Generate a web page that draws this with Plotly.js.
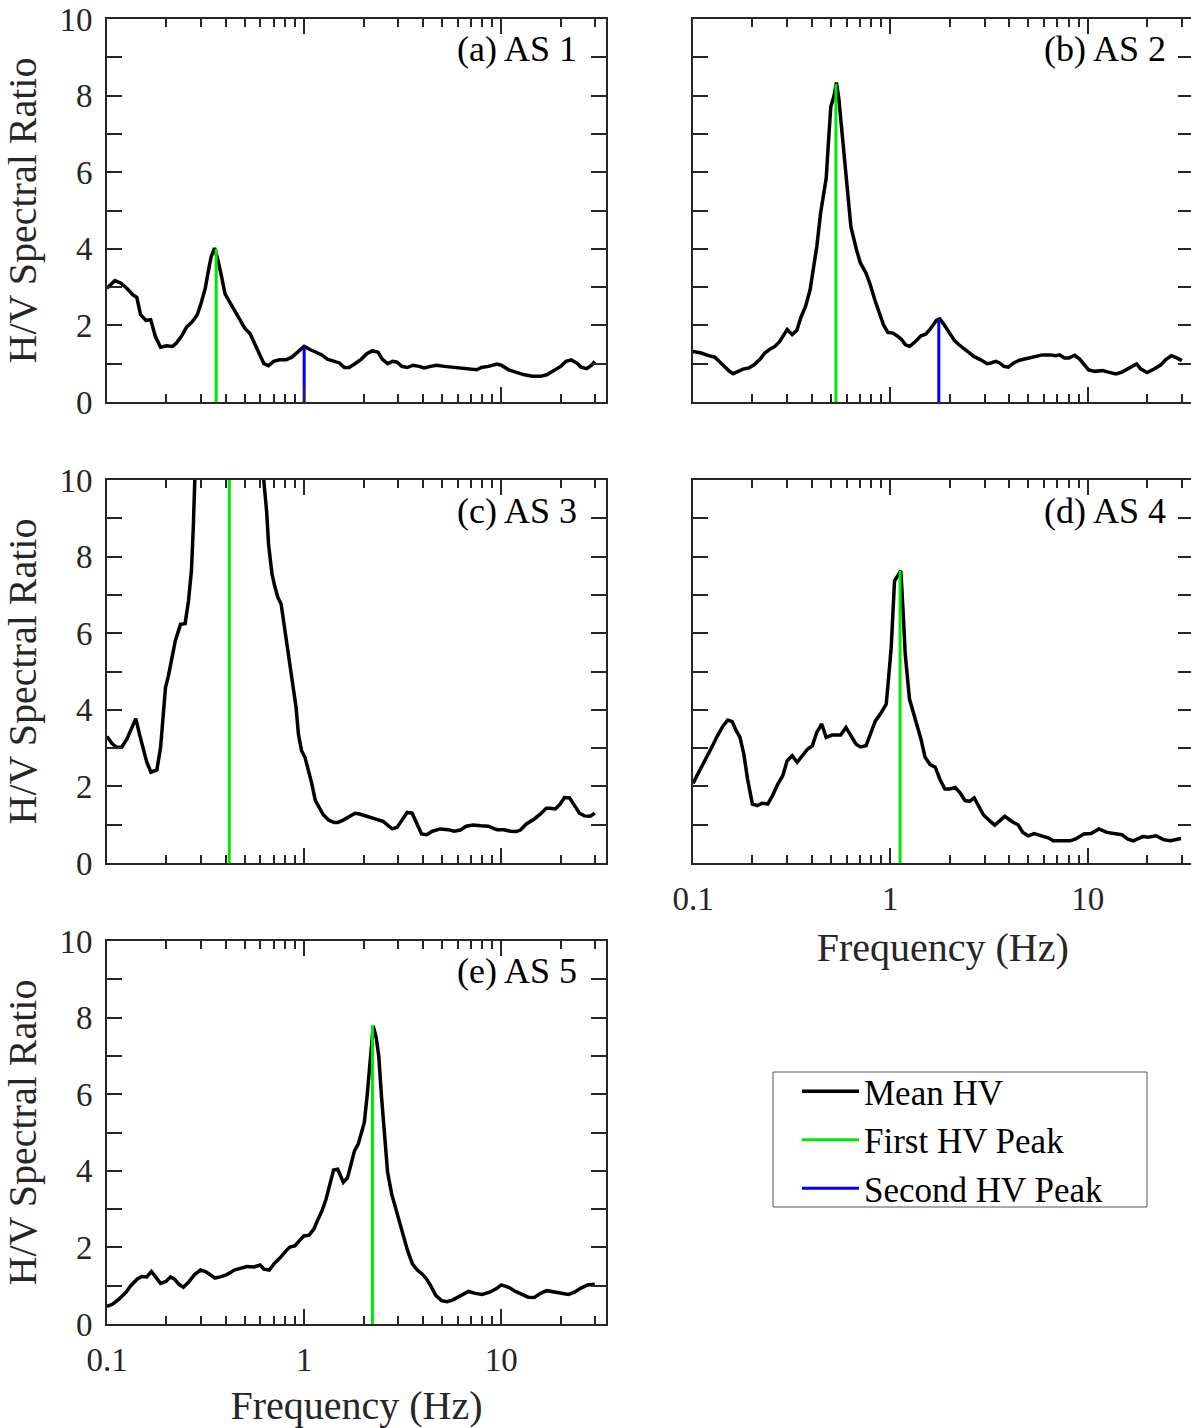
<!DOCTYPE html>
<html>
<head>
<meta charset="utf-8">
<script src="https://cdn.plot.ly/plotly-3.0.1.min.js"></script>
<style>
  html, body { margin: 0; padding: 0; background: #fff; overflow: hidden; }
  #chart { width: 1194px; height: 1428px; }
</style>
</head>
<body>
<div id="chart"></div>
<script>
// ---------------- data ----------------
const panelLabels = ['(a) AS 1', '(b) AS 2', '(c) AS 3', '(d) AS 4', '(e) AS 5'];
const seriesNames = ['Mean HV', 'First HV Peak', 'Second HV Peak'];

const freqA = [0.1,0.1097,0.1176,0.126,0.135,0.1416,0.148,0.1576,0.1666,0.176,0.187,0.2006,0.215,0.225,0.238,0.253,0.271,0.287,0.30,0.315,0.33,0.338,0.351,0.363,0.381,0.397,0.417,0.446,0.473,0.50,0.532,0.563,0.598,0.625,0.66,0.70,0.75,0.81,0.866,0.93,1.0,1.07,1.14,1.23,1.31,1.41,1.51,1.60,1.69,1.81,1.95,2.08,2.22,2.37,2.49,2.65,2.81,2.96,3.13,3.33,3.57,3.83,4.06,4.38,4.69,5.15,5.65,6.2,6.8,7.5,7.93,8.6,9.5,10.0,10.9,11.9,13.1,14.4,15.8,17.0,18.3,20.0,21.3,22.6,24.1,25.4,27.1,28.7,29.8];
const hvA   = [2.97,3.17,3.10,2.97,2.80,2.73,2.28,2.13,2.15,1.71,1.43,1.47,1.45,1.54,1.71,1.95,2.10,2.28,2.58,2.97,3.54,3.80,4.02,3.76,3.28,2.82,2.63,2.37,2.13,1.93,1.78,1.50,1.17,1.00,0.95,1.06,1.10,1.10,1.17,1.30,1.45,1.37,1.30,1.23,1.12,1.08,1.02,0.90,0.90,1.00,1.12,1.26,1.34,1.30,1.12,1.00,1.06,1.04,0.93,0.90,0.96,0.93,0.89,0.93,0.96,0.93,0.91,0.87,0.86,0.84,0.90,0.93,0.99,0.96,0.84,0.78,0.71,0.67,0.67,0.71,0.82,0.93,1.06,1.10,1.02,0.91,0.87,0.96,1.06];

const freqB = [0.1,0.110,0.120,0.129,0.136,0.144,0.153,0.160,0.168,0.179,0.192,0.204,0.219,0.231,0.244,0.260,0.275,0.287,0.300,0.318,0.336,0.351,0.372,0.392,0.406,0.424,0.443,0.459,0.473,0.484,0.499,0.517,0.533,0.548,0.565,0.585,0.609,0.631,0.674,0.705,0.752,0.787,0.834,0.881,0.922,0.971,1.03,1.08,1.14,1.19,1.25,1.34,1.43,1.51,1.59,1.71,1.78,1.86,1.99,2.11,2.22,2.34,2.48,2.65,2.87,3.09,3.23,3.42,3.58,3.76,3.96,4.22,4.51,4.92,5.38,5.89,6.45,6.89,7.2,7.63,8.03,8.6,9.1,9.6,10.1,10.9,11.9,12.7,13.9,14.9,16.3,17.7,18.6,20.0,21.7,23.5,24.8,26.5,28.3,30.0];
const hvB   = [1.32,1.28,1.21,1.17,1.06,0.93,0.80,0.74,0.80,0.86,0.89,0.97,1.12,1.28,1.37,1.45,1.58,1.73,1.89,1.76,1.87,2.19,2.50,2.93,3.45,4.06,4.93,5.45,5.84,6.67,7.71,7.97,8.34,7.93,7.19,6.23,5.28,4.58,3.97,3.63,3.37,3.10,2.67,2.28,2.02,1.82,1.80,1.73,1.63,1.50,1.45,1.58,1.73,1.77,1.90,2.13,2.17,2.04,1.80,1.61,1.50,1.41,1.32,1.19,1.10,1.00,1.02,1.06,1.02,0.93,0.91,1.02,1.09,1.13,1.17,1.23,1.23,1.21,1.23,1.15,1.15,1.22,1.12,0.96,0.84,0.80,0.82,0.78,0.73,0.78,0.89,0.99,0.86,0.77,0.86,0.97,1.10,1.21,1.15,1.08];

const freqC = [0.1,0.106,0.112,0.119,0.126,0.134,0.140,0.146,0.152,0.159,0.167,0.179,0.187,0.198,0.205,0.213,0.222,0.236,0.249,0.259,0.268,0.274,0.280,0.33,0.417,0.52,0.61,0.625,0.645,0.66,0.687,0.709,0.736,0.764,0.80,0.837,0.877,0.91,0.935,0.97,1.01,1.05,1.09,1.14,1.20,1.25,1.33,1.42,1.48,1.58,1.69,1.81,1.91,2.05,2.19,2.35,2.51,2.68,2.8,2.96,3.13,3.33,3.53,3.73,3.94,4.18,4.47,4.9,5.38,5.76,6.2,6.64,7.2,7.87,8.6,9.2,9.55,10.3,11.1,11.9,12.5,13.4,14.7,15.8,16.9,17.7,18.8,19.9,20.9,22.2,23.5,24.9,26.4,28.2,29.8];
const hvC   = [3.30,3.12,3.02,3.03,3.23,3.58,3.77,3.37,3.02,2.64,2.37,2.43,3.02,4.58,4.89,5.28,5.80,6.23,6.25,6.84,7.63,8.76,10.3,12.8,14.5,12.8,10.6,9.95,9.19,8.32,7.54,7.23,6.93,6.76,6.06,5.37,4.67,4.06,3.37,2.93,2.76,2.45,2.10,1.63,1.41,1.26,1.12,1.06,1.06,1.12,1.21,1.30,1.28,1.23,1.17,1.13,1.09,0.97,0.89,0.93,1.10,1.32,1.30,1.02,0.76,0.74,0.83,0.89,0.87,0.83,0.86,0.96,0.99,0.97,0.96,0.90,0.87,0.87,0.83,0.82,0.86,1.02,1.15,1.28,1.43,1.43,1.41,1.54,1.71,1.70,1.50,1.30,1.23,1.22,1.30];

const freqD = [0.1,0.106,0.114,0.123,0.133,0.142,0.150,0.158,0.165,0.173,0.181,0.189,0.200,0.212,0.223,0.239,0.253,0.269,0.285,0.300,0.318,0.337,0.358,0.380,0.402,0.424,0.449,0.473,0.505,0.56,0.596,0.631,0.67,0.706,0.753,0.798,0.84,0.90,0.953,0.98,1.01,1.05,1.09,1.13,1.16,1.19,1.25,1.33,1.43,1.50,1.59,1.69,1.78,1.89,1.99,2.13,2.25,2.39,2.52,2.66,2.8,2.96,3.16,3.38,3.58,3.8,4.11,4.45,4.69,5.0,5.35,5.85,6.35,6.68,7.3,8.15,8.7,9.55,10.4,11.4,12.5,13.7,14.9,15.9,17.0,19.0,20.2,22.2,24.2,26.2,27.5,29.7];
const hvD   = [2.08,2.32,2.63,2.97,3.32,3.58,3.73,3.69,3.47,3.28,2.84,2.19,1.54,1.50,1.56,1.54,1.76,2.06,2.28,2.67,2.80,2.63,2.80,2.97,3.06,3.41,3.63,3.28,3.34,3.34,3.54,3.32,3.10,3.03,3.06,3.41,3.71,3.93,4.15,4.84,5.63,7.37,7.50,7.63,6.58,5.45,4.28,3.80,3.23,2.76,2.57,2.50,2.19,1.93,1.93,1.97,1.84,1.63,1.61,1.70,1.50,1.26,1.12,0.99,1.10,1.22,1.09,0.99,0.80,0.71,0.77,0.71,0.65,0.58,0.58,0.58,0.63,0.76,0.77,0.89,0.80,0.76,0.74,0.63,0.58,0.69,0.67,0.71,0.61,0.58,0.61,0.64];

const freqE = [0.1,0.107,0.115,0.125,0.132,0.142,0.150,0.159,0.168,0.177,0.187,0.199,0.210,0.220,0.231,0.244,0.259,0.278,0.298,0.316,0.334,0.353,0.375,0.406,0.442,0.473,0.512,0.557,0.598,0.625,0.665,0.703,0.753,0.809,0.847,0.896,0.938,0.996,1.06,1.12,1.17,1.23,1.29,1.35,1.41,1.48,1.53,1.58,1.66,1.74,1.80,1.88,1.96,2.02,2.09,2.16,2.24,2.32,2.39,2.47,2.56,2.65,2.78,2.91,3.05,3.2,3.35,3.54,3.75,3.98,4.18,4.38,4.66,4.98,5.29,5.69,6.25,6.81,7.38,8.0,8.72,9.5,10.0,10.9,11.8,12.8,13.7,14.7,15.8,17.0,18.6,20.1,21.9,23.5,25.2,27.4,29.8];
const hvE   = [0.46,0.52,0.65,0.83,1.00,1.17,1.24,1.23,1.37,1.22,1.06,1.11,1.23,1.17,1.04,0.96,1.09,1.29,1.41,1.37,1.29,1.20,1.23,1.29,1.41,1.45,1.50,1.49,1.54,1.43,1.41,1.57,1.72,1.91,2.01,2.04,2.16,2.30,2.32,2.48,2.71,2.95,3.25,3.63,4.02,4.04,3.87,3.70,3.82,4.22,4.52,4.70,5.00,5.26,6.00,6.87,7.78,7.48,7.00,5.91,4.96,3.96,3.39,3.04,2.70,2.30,1.91,1.57,1.41,1.30,1.17,1.00,0.74,0.61,0.58,0.63,0.74,0.85,0.80,0.77,0.83,0.93,1.02,0.96,0.85,0.77,0.70,0.69,0.80,0.87,0.83,0.80,0.77,0.83,0.93,1.02,1.04];

// first / second H/V peaks (frequency in Hz, amplitude of the mean curve)
const peak1Freq = [0.358, 0.53, 0.417, 1.12, 2.22];
const peak1Amp  = [4.0, 8.3, 14.5, 7.63, 7.8];
const peak2Freq = [1.0, 1.76];
const peak2Amp  = [1.45, 2.17];

const xTickVals  = [0.1, 1, 10];
const xTickText  = ['0.1', '1', '10'];
const xMinorVals = [0.2,0.3,0.4,0.5,0.6,0.7,0.8,0.9,2,3,4,5,6,7,8,9,20,30];
const yTickVals  = [0,1,2,3,4,5,6,7,8,9,10];
const yTickText  = ['0','','2','','4','','6','','8','','10'];

// ---------------- layout helpers ----------------
const W = 1194, H = 1428;
const FONT = 'Liberation Serif, Times New Roman, serif';
const AX = '#262626';
const freqs = [freqA, freqB, freqC, freqD, freqE];
const hvs = [hvA, hvB, hvC, hvD, hvE];

// pixel boxes of the five panels: [left, right, top, bottom]
const boxes = [
  [107, 606, 19, 402],
  [693, 1192.5, 19, 402],
  [107, 606, 480, 863],
  [693, 1192.5, 480, 863],
  [107, 606, 941, 1324]
];
const labelPos = [[579, 49], [1168, 49], [579, 511], [1168, 511], [579, 971]];
const showXLabels = [false, false, false, true, true];
const showYLabels = [true, false, true, false, true];

const traces = [];
const layout = {
  width: W, height: H,
  margin: {l: 0, r: 0, t: 0, b: 0},
  paper_bgcolor: '#fff', plot_bgcolor: '#fff',
  font: {family: FONT, color: '#000'},
  showlegend: true,
  legend: {
    x: 797 / W, y: 1 - 1062 / H, xanchor: 'left', yanchor: 'top',
    borderwidth: 0, bgcolor: 'rgba(0,0,0,0)',
    font: {family: FONT, size: 35, color: '#000'},
    itemwidth: 57, tracegroupgap: 0
  },
  shapes: [{
    type: 'rect', xref: 'paper', yref: 'paper',
    x0: 773 / W, x1: 1147 / W, y0: 1 - 1207 / H, y1: 1 - 1072 / H,
    line: {color: '#555', width: 1}, fillcolor: 'rgba(0,0,0,0)', layer: 'below'
  }],
  annotations: []
};

for (let i = 0; i < 5; i++) {
  const s = i === 0 ? '' : String(i + 1);
  const [l, r, t, b] = boxes[i];
  const xa = 'x' + s, ya = 'y' + s;
  layout['xaxis' + s] = {
    type: 'log', domain: [l / W, r / W], anchor: ya, range: [-1, 1.531],
    tickmode: 'array', tickvals: xTickVals,
    ticktext: showXLabels[i] ? xTickText : ['', '', ''],
    ticks: 'inside', ticklen: 15, tickwidth: 2, tickcolor: AX,
    showline: true, linecolor: AX, linewidth: 2, mirror: 'ticks',
    showgrid: false, zeroline: false,
    minor: {tickmode: 'array', tickvals: xMinorVals, ticks: 'inside', ticklen: 8, tickwidth: 2, tickcolor: AX, showgrid: false},
    tickfont: {family: FONT, size: 33, color: AX},
    ticklabelstandoff: 5,
    title: showXLabels[i] ? {text: 'Frequency (Hz)', font: {family: FONT, size: 40, color: AX}, standoff: 17} : {text: ''}
  };
  layout['yaxis' + s] = {
    domain: [1 - b / H, 1 - t / H], anchor: xa, range: [0, 10],
    tickmode: 'array', tickvals: yTickVals,
    ticktext: showYLabels[i] ? yTickText : yTickVals.map(() => ''),
    ticks: 'inside', ticklen: 15, tickwidth: 2, tickcolor: AX,
    showline: true, linecolor: AX, linewidth: 2, mirror: 'ticks',
    showgrid: false, zeroline: false,
    tickfont: {family: FONT, size: 33, color: AX},
    ticklabelstandoff: 6,
    title: showYLabels[i] ? {text: 'H/V Spectral Ratio', font: {family: FONT, size: 40, color: AX}, standoff: 14} : {text: ''}
  };

  traces.push({
    type: 'scatter', mode: 'lines', x: freqs[i], y: hvs[i], xaxis: xa, yaxis: ya,
    name: seriesNames[0], showlegend: i === 0,
    line: {color: '#000', width: 3.5}, hoverinfo: 'x+y'
  });
  traces.push({
    type: 'scatter', mode: 'lines', x: [peak1Freq[i], peak1Freq[i]], y: [0, peak1Amp[i]],
    xaxis: xa, yaxis: ya, name: seriesNames[1], showlegend: i === 0,
    line: {color: '#00e800', width: 3}
  });
  if (i < peak2Freq.length) {
    traces.push({
      type: 'scatter', mode: 'lines', x: [peak2Freq[i], peak2Freq[i]], y: [0, peak2Amp[i]],
      xaxis: xa, yaxis: ya, name: seriesNames[2], showlegend: i === 0,
      line: {color: '#0000ff', width: 3}
    });
  }

  layout.annotations.push({
    xref: 'paper', yref: 'paper', x: labelPos[i][0] / W, y: 1 - labelPos[i][1] / H,
    xanchor: 'right', yanchor: 'middle', showarrow: false,
    text: panelLabels[i], font: {family: FONT, size: 36, color: '#000'}
  });
}

Plotly.newPlot('chart', traces, layout, {displayModeBar: false, staticPlot: true});
</script>
</body>
</html>
